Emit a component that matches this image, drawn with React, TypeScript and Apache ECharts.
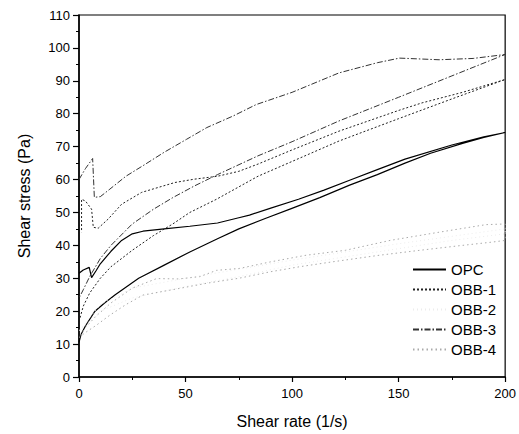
import React, { useEffect, useRef } from "react";
import * as echarts from "echarts";

const xTicks = [0, 50, 100, 150, 200];
const yTicks = [0, 10, 20, 30, 40, 50, 60, 70, 80, 90, 100, 110];
const seriesNames = ["OPC", "OBB-1", "OBB-2", "OBB-3", "OBB-4"];

// OPC hysteresis loop: lower branch (left to right), upper branch (right to left)
const opcLower = [[0,10.5],[1,13],[3,15.5],[7.5,20],[12,22.5],[17,25],[28,30],[40,34],[52,38],[65,42],[75,45],[88,48.3],[99,51],[113,54.5],[127,58.3],[140,61.5],[153,65],[165,68],[180,71],[190,72.8],[200,74.3]];
const opcUpper = [[200,74.3],[190,73],[175,70.5],[153,66.2],[140,63],[127,59.8],[115,56.8],[103,54],[90,51.3],[80,49.2],[75,48.4],[65,46.8],[52,45.8],[40,45],[30,44.3],[25,43.5],[20,41.5],[15,38.2],[10,34.4],[8,32.3],[5.9,30.2],[4.8,33.3],[2,32.5],[0,31.5]];

const obb1Lower = [[0.5,18],[2,21.5],[5,25.5],[10,30],[15,33.5],[25,38.5],[35,43],[44,46.5],[52,50],[64.5,54],[84,61],[100,65.5],[122,71.7],[150,78.5],[175,84.5],[200,90.4]];
const obb1Upper = [[200,90.4],[180,86.5],[161,83.3],[150,81],[122,74.7],[100,69],[84,64.7],[75,62.5],[65,61],[54,60.1],[45,59.1],[29.4,56.1],[20,52.5],[13.7,48],[9,45.2],[6.7,45.5],[5.9,51],[3,53.5],[1.2,54],[1.2,44]];

const obb2Lower = [[0,14],[10,20],[25,24],[50,27.5],[75,30.5],[100,34],[125,36.5],[150,39],[175,41.5],[200,43.5]];
const obb2Upper = [[200,45],[150,40.5],[100,35.5],[50,30],[25,27],[10,22],[0,14]];

const obb3Upper = [[0,60],[3,63.3],[6.4,66.4],[7.2,54.6],[10,54.8],[14.5,57.1],[22,61],[30,64.2],[40,68.3],[50.4,72.2],[60,75.8],[72.3,79.3],[83.2,82.8],[100,86.5],[122,92.4],[140,95.5],[150.4,96.9],[169,96.4],[185,96.8],[200,98]];
const obb3Lower = [[200,98],[175,91.5],[150,85],[122,77.8],[100,71.5],[84,67.2],[65,61.5],[54,58],[44,54.5],[35,51],[25,46.5],[15,40],[10,36],[5,30.5],[2,26.5],[0,24]];

const obb4Lower = [[0,12],[3,13.5],[8.3,15.8],[14.5,18.8],[22,22],[30,24.9],[47,26.9],[60,28.5],[75,30],[90,32],[103.5,33.5],[119,35],[141,37],[160,38.5],[180,40],[194,41],[200,41.5]];
const obb4Upper = [[200,46.5],[191,46.3],[169,44],[146,41.5],[125,38.5],[106.6,37],[90,35],[75.4,33],[64.5,32.4],[56.7,30.5],[47,29.8],[36.4,29.9],[25,27],[15,22.5],[8,18.5],[3,15],[0,12]];

const FONT = "'Liberation Sans', Arial, sans-serif";

export default function App() {
  const ref = useRef<HTMLDivElement>(null);
  useEffect(() => {
    if (!ref.current) return;
    const chart = echarts.init(ref.current, undefined, { renderer: "svg" });
    const mk = (name: string, data: number[][], color: string, type: any, width: number) => ({
      name,
      type: "line",
      data,
      symbol: "none",
      smooth: false,
      lineStyle: { color, type, width },
      itemStyle: { color },
      z: 3,
    });
    chart.setOption({
      animation: false,
      backgroundColor: "#fff",
      textStyle: { fontFamily: FONT },
      grid: { left: 79, right: 13, top: 15, bottom: 55, show: true, borderColor: "#000", borderWidth: 1.2 },
      legend: {
        orient: "vertical",
        left: 407,
        top: 257,
        itemWidth: 33,
        itemHeight: 14,
        itemGap: 5,
        data: seriesNames,
        itemStyle: { opacity: 0 },
        textStyle: { fontSize: 15, color: "#000", fontFamily: FONT },
      },
      xAxis: {
        type: "value",
        min: xTicks[0],
        max: xTicks[xTicks.length - 1],
        interval: 50,
        name: "Shear rate (1/s)",
        nameLocation: "middle",
        nameGap: 36,
        nameTextStyle: { fontSize: 16, color: "#000", fontFamily: FONT },
        axisLine: { show: true, lineStyle: { color: "#000", width: 1.5 } },
        axisTick: { show: true, inside: false, length: 5, lineStyle: { color: "#000", width: 1.2 } },
        minorTick: { show: true, splitNumber: 2, length: 3, lineStyle: { color: "#000", width: 1 } },
        axisLabel: { fontSize: 13, color: "#000", margin: 10, fontFamily: FONT },
        splitLine: { show: false },
      },
      yAxis: {
        type: "value",
        min: yTicks[0],
        max: yTicks[yTicks.length - 1],
        interval: 10,
        name: "Shear stress (Pa)",
        nameLocation: "middle",
        nameGap: 47,
        nameTextStyle: { fontSize: 16, color: "#000", fontFamily: FONT },
        axisLine: { show: true, lineStyle: { color: "#000", width: 1.5 } },
        axisTick: { show: true, inside: false, length: 6, lineStyle: { color: "#000", width: 1.2 } },
        minorTick: { show: true, splitNumber: 2, length: 3, lineStyle: { color: "#000", width: 1 } },
        axisLabel: { fontSize: 13, color: "#000", margin: 9, fontFamily: FONT },
        splitLine: { show: false },
      },
      series: [
        mk("OPC", [...opcLower, ...opcUpper], "#000", "solid", 1.2),
        mk("OBB-1", [...obb1Lower, ...obb1Upper], "#222", [2, 2], 1),
        mk("OBB-2", [...obb2Lower, ...obb2Upper], "#ececec", [1, 3], 1),
        mk("OBB-3", [...obb3Upper, ...obb3Lower], "#333", [6, 2, 1.5, 2], 1),
        mk("OBB-4", [...obb4Lower, ...obb4Upper], "#aaa", [1.5, 3], 1),
      ],
    });
    return () => chart.dispose();
  }, []);
  return <div ref={ref} style={{ position: "fixed", left: 0, top: 0, width: 519, height: 434 }} />;
}
